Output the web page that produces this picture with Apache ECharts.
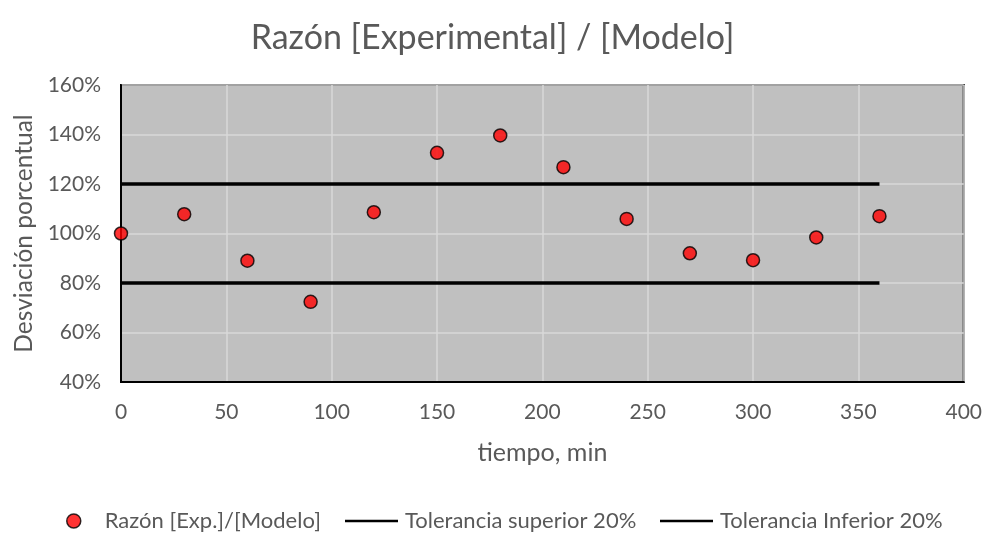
<!DOCTYPE html>
<html>
<head>
<meta charset="utf-8">
<script src="https://cdn.jsdelivr.net/npm/echarts@6/dist/echarts.min.js"></script>
<style>
  html, body { margin: 0; padding: 0; background: #ffffff; }
  #chart { width: 985px; height: 535px; }
</style>
</head>
<body>
<div id="chart"></div>
<script>
// Tiempo de muestreo (min) y razón experimental/modelo (%)
const tiempos = [0, 30, 60, 90, 120, 150, 180, 210, 240, 270, 300, 330, 360];
const razon = [100, 107.8, 89.0, 72.4, 108.6, 132.6, 139.6, 126.8, 105.9, 92.0, 89.2, 98.4, 107.0];

// Bandas de tolerancia (±20 %)
const tolTiempos = [0, 360];
const tolSuperior = [120, 120];
const tolInferior = [80, 80];

const textColor = '#595959';
const font = 'Lato';
const lineIcon = 'path://M0,0 L60,0 L60,3 L0,3 Z';

const chart = echarts.init(document.getElementById('chart'));

function legendItem(name, left, icon, w, h, pad, style) {
  return {
    left: left,
    top: 505,
    itemWidth: w,
    itemHeight: h,
    itemGap: 0,
    data: [{ name: name, icon: icon, itemStyle: style }],
    textStyle: { fontFamily: font, fontSize: 22, color: textColor, padding: [0, 0, 0, pad] }
  };
}

chart.setOption({
  animation: false,
  backgroundColor: '#ffffff',
  textStyle: { fontFamily: font },
  title: {
    text: 'Razón [Experimental] / [Modelo]',
    left: 'center',
    top: 16,
    textStyle: { fontFamily: font, fontSize: 34, fontWeight: 'normal', color: textColor }
  },
  grid: {
    left: 121, right: 20, top: 85, bottom: 153,
    show: true,
    backgroundColor: '#c0c0c0',
    borderColor: '#000000',
    borderWidth: 2
  },
  xAxis: {
    type: 'value',
    min: 0, max: 400, interval: 50,
    name: 'tiempo, min',
    nameLocation: 'middle',
    nameGap: 58,
    nameTextStyle: { fontFamily: font, fontSize: 25, color: textColor },
    axisLine: { show: true, lineStyle: { color: '#000000', width: 2 } },
    axisTick: { show: false },
    axisLabel: { fontFamily: font, fontSize: 21, color: textColor, margin: 20 },
    splitLine: { show: true, lineStyle: { color: '#d9d9d9', width: 1.5 } }
  },
  yAxis: {
    type: 'value',
    min: 40, max: 160, interval: 20,
    name: 'Desviación porcentual',
    nameLocation: 'middle',
    nameGap: 83,
    nameTextStyle: { fontFamily: font, fontSize: 24.5, color: textColor },
    axisLine: { show: true, lineStyle: { color: '#000000', width: 2 } },
    axisTick: { show: false },
    axisLabel: { fontFamily: font, fontSize: 21, color: textColor, margin: 20, formatter: '{value}%' },
    splitLine: { show: true, lineStyle: { color: '#d9d9d9', width: 1.5 } }
  },
  legend: [
    legendItem('Razón [Exp.]/[Modelo]', 61, 'circle', 14, 14, 19,
      { color: '#ff0000', borderColor: '#000000', borderWidth: 1.5 }),
    legendItem('Tolerancia superior 20%', 340, lineIcon, 53, 3.5, 2,
      { color: '#000000', borderWidth: 0 }),
    legendItem('Tolerancia Inferior 20%', 655, lineIcon, 53, 3.5, 2,
      { color: '#000000', borderWidth: 0 })
  ],
  series: [
    {
      name: 'Tolerancia superior 20%',
      type: 'line',
      data: tolTiempos.map((t, i) => [t, tolSuperior[i]]),
      symbol: 'none',
      lineStyle: { color: '#000000', width: 3.5 },
      itemStyle: { color: '#000000' },
      z: 2
    },
    {
      name: 'Tolerancia Inferior 20%',
      type: 'line',
      data: tolTiempos.map((t, i) => [t, tolInferior[i]]),
      symbol: 'none',
      lineStyle: { color: '#000000', width: 3.5 },
      itemStyle: { color: '#000000' },
      z: 2
    },
    {
      name: 'Razón [Exp.]/[Modelo]',
      type: 'scatter',
      data: tiempos.map((t, i) => [t, razon[i]]),
      symbol: 'circle',
      symbolSize: 13,
      itemStyle: { color: '#ff0000', borderColor: '#000000', borderWidth: 1.5 },
      z: 3
    }
  ]
});
</script>
</body>
</html>
